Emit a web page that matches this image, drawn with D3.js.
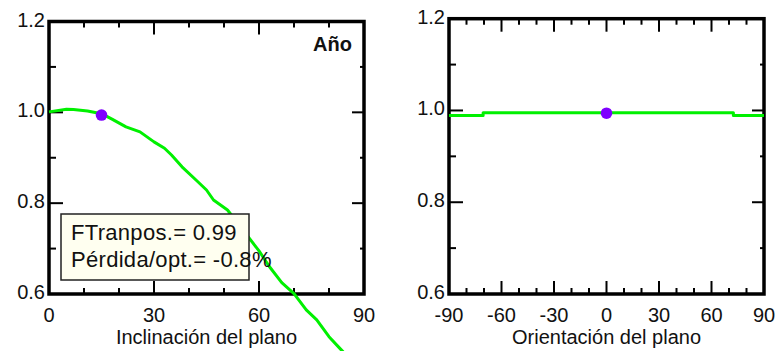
<!DOCTYPE html>
<html><head><meta charset="utf-8">
<script src="https://cdn.jsdelivr.net/npm/d3@7"></script>
<style>
html,body{margin:0;padding:0;background:#fff;}
svg{display:block;}
text{font-family:"Liberation Sans",Arial,sans-serif;fill:#111;}
</style></head>
<body>
<svg id="chart" width="777" height="351"></svg>
<script>
// ---- data ----
const tiltAngles = [0, 5, 7, 11, 15, 18, 22, 26, 30, 33, 35, 38, 42, 45, 47, 51, 55, 60, 63, 66.5, 70, 73.5, 76.5, 80, 83.5, 85];
const tiltValues = [1.001, 1.007, 1.006, 1.003, 0.997, 0.985, 0.968, 0.957, 0.935, 0.921, 0.906, 0.880, 0.851, 0.829, 0.807, 0.785, 0.745, 0.695, 0.660, 0.625, 0.601, 0.565, 0.543, 0.506, 0.477, 0.465];
const orientAngles = [-90, -70.5, 72.5, 90];
const orientValues = [0.989, 0.995, 0.989, 0.989];
const tiltOpt = [15, 0.994];
const orientOpt = [0, 0.994];
const yTicks = [0.6, 0.8, 1.0, 1.2];
const yMinor = [0.7, 0.9, 1.1];
const tiltTicks = [0, 30, 60, 90];
const tiltMinor = [10, 20, 40, 50, 70, 80];
const orientTicks = [-90, -60, -30, 0, 30, 60, 90];
const orientMinor = [-80, -70, -50, -40, -20, -10, 10, 20, 40, 50, 70, 80];
const periodLabel = "Año";
const infoLines = ["FTranpos.= 0.99", "Pérdida/opt.= -0.8%"];
const xTitles = ["Inclinación del plano", "Orientación del plano"];

const svg = d3.select("#chart");
const FS = 20;

function panel(opts) {
  const {x0, x1, yTop, yBot, domain, ticks, minor, title, line, dot, curve} = opts;
  const x = d3.scaleLinear().domain(domain).range([x0, x1]);
  const y = d3.scaleLinear().domain([0.6, 1.2]).range([yBot, yTop]);
  const g = svg.append("g");
  // ticks (inward)
  const tk = g.append("g").attr("stroke", "#000").attr("stroke-width", 2);
  ticks.forEach(t => {
    tk.append("line").attr("x1", x(t)).attr("x2", x(t)).attr("y1", yTop).attr("y2", yTop + 13);
    tk.append("line").attr("x1", x(t)).attr("x2", x(t)).attr("y1", yBot).attr("y2", yBot - 13);
  });
  minor.forEach(t => {
    tk.append("line").attr("x1", x(t)).attr("x2", x(t)).attr("y1", yTop).attr("y2", yTop + 6);
    tk.append("line").attr("x1", x(t)).attr("x2", x(t)).attr("y1", yBot).attr("y2", yBot - 6);
  });
  yTicks.forEach(t => {
    tk.append("line").attr("x1", x0).attr("x2", x0 + 14).attr("y1", y(t)).attr("y2", y(t));
    tk.append("line").attr("x1", x1).attr("x2", x1 - 12).attr("y1", y(t)).attr("y2", y(t));
  });
  yMinor.forEach(t => {
    tk.append("line").attr("x1", x0).attr("x2", x0 + 7).attr("y1", y(t)).attr("y2", y(t));
    tk.append("line").attr("x1", x1).attr("x2", x1 - 4).attr("y1", y(t)).attr("y2", y(t));
  });
  // frame
  g.append("rect").attr("x", x0).attr("y", yTop).attr("width", x1 - x0).attr("height", yBot - yTop)
    .attr("fill", "none").attr("stroke", "#000").attr("stroke-width", 3.5);
  // tick labels
  yTicks.forEach(t => {
    g.append("text").attr("x", x0 - 4).attr("y", y(t) + 5)
      .attr("text-anchor", "end").attr("font-size", FS).text(d3.format(".1f")(t));
  });
  ticks.forEach(t => {
    g.append("text").attr("x", x(t)).attr("y", yBot + 27.5)
      .attr("text-anchor", "middle").attr("font-size", FS).text(t);
  });
  g.append("text").attr("x", (x0 + x1) / 2).attr("y", 344)
    .attr("text-anchor", "middle").attr("font-size", FS).text(title);
  // series line
  const ln = d3.line().x((d, i) => x(line[0][i])).y((d, i) => y(line[1][i])).curve(curve);
  g.append("path").datum(line[0]).attr("d", ln).attr("fill", "none")
    .attr("stroke", "#00f000").attr("stroke-width", 3).attr("stroke-linejoin", "round");
  g.append("circle").attr("cx", x(dot[0])).attr("cy", y(dot[1])).attr("r", 5.8).attr("fill", "#7f00ff");
  return {x, y, g};
}

panel({x0: 49, x1: 364, yTop: 21.5, yBot: 294, domain: [0, 90], ticks: tiltTicks, minor: tiltMinor,
  title: xTitles[0], line: [tiltAngles, tiltValues], dot: tiltOpt, curve: d3.curveLinear});
panel({x0: 449, x1: 764, yTop: 18.7, yBot: 294, domain: [-90, 90], ticks: orientTicks, minor: orientMinor,
  title: xTitles[1], line: [orientAngles, orientValues], dot: orientOpt, curve: d3.curveStepAfter});

// period label
svg.append("text").attr("x", 352).attr("y", 51).attr("text-anchor", "end")
  .attr("font-size", 20).attr("font-weight", "bold").text(periodLabel);

// info box
const box = svg.append("g");
box.append("rect").attr("x", 61).attr("y", 214).attr("width", 188).attr("height", 66)
  .attr("fill", "#fffff0").attr("stroke", "#222").attr("stroke-width", 1.5);
infoLines.forEach((s, i) => {
  box.append("text").attr("x", 71).attr("y", 240 + i * 27).attr("font-size", 22)
    .attr("letter-spacing", 0.3).text(s);
});
</script>
</body></html>
